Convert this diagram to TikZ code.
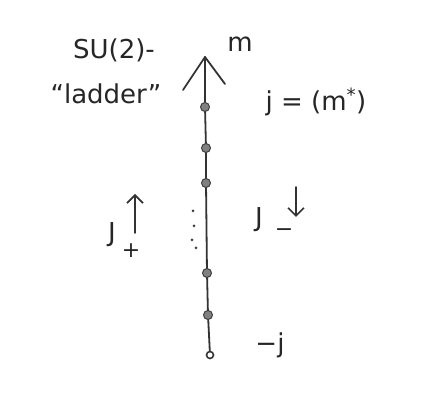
\documentclass[tikz,border=0pt]{standalone}
\usepackage{fontspec}
\setmainfont{DejaVu Sans}
\usetikzlibrary{arrows.meta}
\begin{document}
\begin{tikzpicture}[x=1pt,y=-1pt,
  ink/.style={draw=black!80, line width=1.8pt, line cap=round, line join=round},
  fdot/.style={circle, draw=black!75, fill=black!50, line width=1pt, inner sep=0pt, minimum size=9pt},
  odot/.style={circle, draw=black!80, fill=white, line width=1.6pt, inner sep=0pt, minimum size=7pt},
  tdot/.style={circle, fill=black!75, inner sep=0pt, minimum size=3pt},
  lbl/.style={inner sep=0pt, font=\fontsize{26}{30}\selectfont, text=black!85},
  sub/.style={inner sep=0pt, font=\fontsize{22}{26}\selectfont, text=black!85},
  harr/.style={ink, -{Straight Barb[length=8pt,width=16pt,line width=1.6pt]}}]
\useasboundingbox (0,0) rectangle (424,398);
\fill[white] (0,0) rectangle (424,398);
% axis
\coordinate (top) at (205,57);
\coordinate (la) at (183,90);
\coordinate (ra) at (225,84);
\node[fdot] (d1) at (205,107) {};
\node[fdot] (d2) at (206,148) {};
\node[fdot] (d3) at (206,183) {};
\node[fdot] (d4) at (207,273) {};
\node[fdot] (d5) at (208,315) {};
\node[odot] (d6) at (210,355) {};
\draw[ink] (top) -- (d1) -- (d2) -- (d3) -- (d4) -- (d5) -- (d6);
\draw[ink] (la) -- (top) -- (ra);
% ellipsis dots
\node[tdot] (e1) at (193,211) {};
\node[tdot] (e2) at (194,226) {};
\node[tdot] (e3) at (192,240) {};
\node[tdot] (e4) at (196,248) {};
% labels
\node[lbl] (su) at (114,50) {SU(2)-};
\node[lbl] (lad) at (106,94) {“ladder”};
\node[lbl] (m) at (240,44) {m};
\node[lbl] (jm) at (316,102) {j = (m\textsuperscript{*})};
\node[lbl] (jp) at (112,235) {J};
\node[sub] (jps) at (131,251) {+};
\node[lbl] (jmi) at (259,220) {J};
\node[sub] (jmis) at (284,233) {−};
\node[lbl] (mj) at (270,345) {−j};
\coordinate (upa) at (135,233);
\coordinate (upb) at (135,194);
\coordinate (dna) at (296,187);
\coordinate (dnb) at (296,217);
\draw[harr] (upa) -- (upb);
\draw[harr] (dna) -- (dnb);
\end{tikzpicture}
\end{document}
